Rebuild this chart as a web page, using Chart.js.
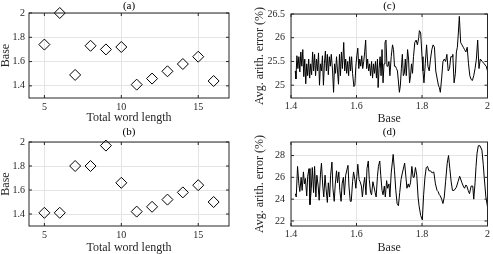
<!DOCTYPE html>
<html lang="en">
<head>
<meta charset="UTF-8" />
<title>Base vs word length, arithmetic error vs base</title>
<script src="https://cdn.jsdelivr.net/npm/chart.js"></script>
<style>
  body { margin: 0; background: #fff; }
  .panel { position: absolute; }
</style>
</head>
<body>
<div class="panel" style="left:0;top:0"><canvas id="chartA" width="246" height="127"></canvas></div>
<div class="panel" style="left:0;top:127px"><canvas id="chartB" width="246" height="127"></canvas></div>
<div class="panel" style="left:246px;top:0"><canvas id="chartC" width="247" height="127"></canvas></div>
<div class="panel" style="left:246px;top:127px"><canvas id="chartD" width="247" height="127"></canvas></div>

<script>
  // (a), (b): best base per total word length
  const wordLengths = [5, 6, 7, 8, 9, 10, 11, 12, 13, 14, 15, 16];
  const baseA = [1.74, 2.0, 1.49, 1.73, 1.70, 1.72, 1.41, 1.46, 1.52, 1.58, 1.64, 1.44];
  const baseB = [1.41, 1.41, 1.80, 1.80, 1.97, 1.66, 1.42, 1.46, 1.52, 1.58, 1.64, 1.50];

  // (c): average arithmetic error vs base
  const baseGridC = [
    1.413, 1.415, 1.418, 1.421, 1.424, 1.427, 1.430, 1.433, 1.436, 1.439,
    1.442, 1.445, 1.448, 1.451, 1.454, 1.457, 1.460, 1.463, 1.466, 1.469,
    1.472, 1.475, 1.478, 1.481, 1.484, 1.487, 1.490, 1.493, 1.496, 1.499,
    1.502, 1.505, 1.508, 1.511, 1.514, 1.517, 1.520, 1.523, 1.527, 1.530,
    1.533, 1.536, 1.539, 1.542, 1.545, 1.548, 1.551, 1.554, 1.557, 1.561,
    1.564, 1.567, 1.570, 1.573, 1.576, 1.579, 1.582, 1.585, 1.588, 1.592,
    1.595, 1.598, 1.601, 1.604, 1.607, 1.610, 1.613, 1.616, 1.619, 1.622,
    1.625, 1.628, 1.631, 1.634, 1.637, 1.640, 1.643, 1.646, 1.649, 1.652,
    1.655, 1.658, 1.661, 1.664, 1.666, 1.669, 1.672, 1.675, 1.678, 1.681,
    1.684, 1.687, 1.690, 1.693, 1.696, 1.699, 1.702, 1.706, 1.710, 1.713,
    1.716, 1.719, 1.722, 1.725, 1.731, 1.734, 1.737, 1.740, 1.743, 1.746,
    1.749, 1.752, 1.756, 1.759, 1.762, 1.765, 1.768, 1.771, 1.774, 1.778,
    1.782, 1.786, 1.790, 1.792, 1.796, 1.800, 1.803, 1.806, 1.810, 1.814,
    1.818, 1.822, 1.826, 1.830, 1.834, 1.838, 1.842, 1.846, 1.850, 1.853,
    1.856, 1.860, 1.864, 1.868, 1.872, 1.876, 1.880, 1.884, 1.888, 1.892,
    1.894, 1.898, 1.902, 1.905, 1.908, 1.911, 1.914, 1.918, 1.922, 1.926,
    1.930, 1.934, 1.938, 1.942, 1.946, 1.950, 1.954, 1.958, 1.962, 1.966,
    1.970, 1.974, 1.978, 1.984, 1.990, 1.996, 2.000
  ];
  const errorC = [
    25.30, 25.13, 25.62, 25.35, 25.60, 25.28, 25.70, 25.40, 25.75, 25.18,
    25.55, 25.03, 25.45, 25.20, 25.55, 25.15, 25.45, 25.22, 25.70, 25.30,
    25.65, 25.20, 25.55, 25.30, 25.68, 25.00, 25.45, 25.30, 25.62, 25.00,
    25.45, 25.72, 25.30, 25.65, 25.22, 25.60, 25.40, 25.65, 25.30, 24.85,
    25.45, 25.25, 25.60, 25.30, 25.02, 25.65, 25.20, 25.70, 25.35, 25.90,
    25.30, 25.55, 25.25, 25.50, 25.20, 25.60, 25.30, 25.60, 25.25, 24.97,
    25.00, 25.40, 25.62, 25.78, 25.35, 25.55, 25.40, 25.62, 25.35, 25.50,
    25.70, 25.95, 25.35, 25.55, 25.30, 25.45, 25.20, 25.50, 25.15, 25.45,
    25.25, 25.50, 25.15, 25.55, 24.95, 25.35, 25.60, 25.20, 25.75, 25.05,
    25.45, 25.90, 25.95, 25.40, 25.40, 25.50, 25.20, 25.60, 25.85, 25.75,
    25.40, 25.40, 25.35, 25.30, 24.85, 25.00, 25.35, 25.65, 25.20, 25.25,
    25.55, 25.20, 25.75, 25.55, 25.05, 25.20, 25.45, 25.25, 25.60, 25.90,
    25.95, 25.85, 26.00, 26.15, 26.10, 25.60, 25.30, 25.05, 25.45, 25.85,
    25.40, 25.30, 25.55, 25.75, 25.85, 25.80, 25.30, 25.15, 25.00, 24.95,
    24.85, 25.15, 25.50, 25.55, 25.50, 25.65, 25.30, 25.35, 25.60, 25.60,
    25.65, 25.05, 25.25, 25.70, 25.80, 26.10, 26.45, 25.90, 25.85, 25.80,
    25.75, 25.70, 25.80, 25.45, 25.20, 25.12, 25.10, 25.20, 25.35, 25.55,
    25.95, 25.35, 25.55, 25.50, 25.45, 25.40, 25.30
  ];

  // (d): average arithmetic error vs base, second setting
  const baseGridD = [
    1.413, 1.416, 1.420, 1.424, 1.427, 1.431, 1.434, 1.438, 1.441, 1.444,
    1.448, 1.451, 1.455, 1.458, 1.462, 1.465, 1.469, 1.472, 1.476, 1.479,
    1.483, 1.486, 1.490, 1.493, 1.497, 1.500, 1.504, 1.507, 1.511, 1.514,
    1.518, 1.521, 1.525, 1.528, 1.532, 1.535, 1.539, 1.542, 1.546, 1.549,
    1.553, 1.556, 1.560, 1.563, 1.567, 1.570, 1.574, 1.577, 1.581, 1.584,
    1.588, 1.591, 1.595, 1.598, 1.601, 1.604, 1.608, 1.611, 1.615, 1.618,
    1.622, 1.625, 1.629, 1.632, 1.636, 1.639, 1.643, 1.646, 1.650, 1.653,
    1.657, 1.660, 1.664, 1.667, 1.671, 1.674, 1.678, 1.681, 1.685, 1.688,
    1.692, 1.695, 1.699, 1.702, 1.706, 1.712, 1.716, 1.720, 1.724, 1.728,
    1.732, 1.736, 1.740, 1.747, 1.751, 1.754, 1.758, 1.761, 1.765, 1.769,
    1.773, 1.776, 1.780, 1.784, 1.788, 1.791, 1.796, 1.801, 1.805, 1.809,
    1.813, 1.817, 1.821, 1.826, 1.831, 1.836, 1.841, 1.846, 1.849, 1.853,
    1.856, 1.860, 1.864, 1.868, 1.872, 1.877, 1.881, 1.885, 1.889, 1.893,
    1.898, 1.905, 1.910, 1.915, 1.922, 1.926, 1.930, 1.934, 1.937, 1.941,
    1.945, 1.950, 1.955, 1.958, 1.962, 1.965, 1.968, 1.972, 1.977, 1.983,
    1.987, 1.990, 1.995, 2.000
  ];
  const errorD = [
    24.5, 24.2, 27.0, 25.4, 24.7, 26.0, 24.8, 26.5, 25.4, 25.9,
    24.3, 26.1, 26.8, 23.5, 25.0, 26.9, 24.6, 27.0, 24.2, 26.2,
    25.2, 23.9, 26.3, 27.3, 25.2, 24.2, 26.2, 25.0, 23.7, 25.5,
    24.2, 26.2, 27.4, 25.0, 23.8, 25.3, 26.6, 25.5, 26.5, 24.8,
    23.8, 25.4, 26.0, 24.4, 26.2, 26.6, 27.1, 25.2, 23.8, 23.8,
    25.6, 26.5, 25.8, 25.0, 26.1, 27.2, 25.8, 25.6, 25.2, 24.2,
    25.4, 26.0, 24.4, 26.8, 27.5, 25.8, 24.6, 24.4, 25.6, 25.2,
    24.6, 24.2, 26.1, 27.0, 27.5, 26.2, 24.8, 24.4, 25.2, 24.2,
    25.7, 25.0, 25.4, 24.2, 26.4, 28.1, 26.6, 24.8, 23.6, 23.4,
    24.6, 25.8, 26.4, 27.3, 26.0, 25.0, 25.4, 25.1, 25.5, 27.0,
    26.0, 26.0, 26.9, 26.2, 24.2, 23.4, 22.5, 22.1, 24.4, 26.0,
    26.9, 27.0, 26.6, 26.6, 26.4, 26.5, 25.4, 24.8, 24.7, 24.4,
    24.3, 24.0, 23.6, 24.2, 25.6, 27.3, 28.0, 26.8, 25.6, 24.8,
    24.8, 25.1, 25.6, 26.1, 25.5, 25.2, 25.0, 25.3, 25.2, 24.8,
    24.5, 25.2, 25.2, 24.0, 25.5, 27.0, 28.2, 28.9, 28.9, 28.5,
    27.2, 26.0, 24.2, 23.3
  ];

  const FONT = '"Liberation Serif", "Times New Roman", serif';
  const INK = "#262626";

  const toPoints = (xs, ys) => xs.map((x, i) => ({ x, y: ys[i] }));
  const fmt = (v) => String(+v.toFixed(2));

  // MATLAB-ish axes box, inward ticks, panel letter
  const boxPlugin = {
    id: "box",
    afterDraw(chart, args, opts) {
      const { ctx, chartArea: a, scales } = chart;
      ctx.save();
      ctx.strokeStyle = INK;
      ctx.lineWidth = 1;
      ctx.strokeRect(a.left, a.top, a.right - a.left, a.bottom - a.top);
      const len = 3;
      ctx.beginPath();
      scales.x.ticks.forEach((t) => {
        const px = scales.x.getPixelForValue(t.value);
        ctx.moveTo(px, a.bottom); ctx.lineTo(px, a.bottom - len);
        ctx.moveTo(px, a.top); ctx.lineTo(px, a.top + len);
      });
      scales.y.ticks.forEach((t) => {
        const py = scales.y.getPixelForValue(t.value);
        ctx.moveTo(a.left, py); ctx.lineTo(a.left + len, py);
        ctx.moveTo(a.right, py); ctx.lineTo(a.right - len, py);
      });
      ctx.stroke();
      ctx.fillStyle = "#000";
      ctx.font = "11px " + FONT;
      ctx.textAlign = "center";
      ctx.textBaseline = "middle";
      ctx.fillText(opts.label, (a.left + a.right) / 2, opts.labelY);
      ctx.restore();
    },
  };

  function makePanel(id, cfg) {
    const tickFont = { family: FONT, size: 10, lineHeight: 1 };
    const titleFont = { family: FONT, size: 12, lineHeight: 1 };
    return new Chart(document.getElementById(id), {
      type: cfg.type,
      data: { datasets: [cfg.dataset] },
      plugins: [boxPlugin],
      options: {
        responsive: false,
        animation: false,
        layout: { padding: { top: cfg.top, right: cfg.right, left: 0, bottom: 0 } },
        plugins: {
          legend: { display: false },
          tooltip: { enabled: false },
          box: { label: cfg.label, labelY: cfg.labelY },
        },
        scales: {
          x: {
            type: "linear",
            min: cfg.xMin,
            max: cfg.xMax,
            afterBuildTicks: (s) => { s.ticks = cfg.xTicks.map((v) => ({ value: v })); },
            afterFit: (s) => { s.height = cfg.xHeight; },
            grid: { color: "#e4e4e4", drawTicks: false },
            border: { display: false },
            ticks: { font: tickFont, color: INK, padding: cfg.xTickPad, maxRotation: 0, callback: fmt },
            title: { display: true, text: cfg.xTitle, font: titleFont, color: INK, padding: { top: 0, bottom: cfg.xTitlePad } },
          },
          y: {
            type: "linear",
            min: cfg.yMin,
            max: cfg.yMax,
            afterBuildTicks: (s) => { s.ticks = cfg.yTicks.map((v) => ({ value: v })); },
            afterFit: (s) => { s.width = cfg.yWidth; },
            grid: { color: "#e4e4e4", drawTicks: false },
            border: { display: false },
            ticks: { font: tickFont, color: INK, padding: cfg.yTickPad, callback: fmt },
            title: { display: true, text: cfg.yTitle, font: titleFont, color: INK, padding: { top: cfg.yTitlePad, bottom: 0 } },
          },
        },
      },
    });
  }

  const diamond = (data) => ({
    data,
    pointStyle: "rectRot",
    pointRadius: 5.5,
    pointBorderWidth: 1,
    pointBorderColor: "#000",
    pointBackgroundColor: "rgba(0,0,0,0)",
    showLine: false,
    clip: false,
  });
  const trace = (data) => ({
    data,
    borderColor: "#000",
    borderWidth: 1,
    pointRadius: 0,
    tension: 0,
    fill: false,
  });

  const leftCommon = {
    type: "scatter", xMin: 4, xMax: 17, xTicks: [5, 10, 15],
    yMin: 1.3, yMax: 2, yTicks: [1.4, 1.6, 1.8, 2],
    xTitle: "Total word length", yTitle: "Base",
    right: 17, yWidth: 29, xTickPad: 4, yTickPad: 4, yTitlePad: 0,
  };
  const rightCommon = {
    type: "line", xMin: 1.4, xMax: 2, xTicks: [1.4, 1.6, 1.8, 2],
    xTitle: "Base", yTitle: "Avg. arith. error (%)",
    right: 3, yWidth: 45, xTickPad: 3, yTickPad: 6, yTitlePad: 8,
  };

  makePanel("chartA", { ...leftCommon, dataset: diamond(toPoints(wordLengths, baseA)),
    label: "(a)", labelY: 6, top: 13, xHeight: 29, xTitlePad: 3 });
  makePanel("chartB", { ...leftCommon, dataset: diamond(toPoints(wordLengths, baseB)),
    label: "(b)", labelY: 5, top: 15, xHeight: 28, xTitlePad: 0 });
  makePanel("chartC", { ...rightCommon, dataset: trace(toPoints(baseGridC, errorC)),
    yMin: 24.73, yMax: 26.5, yTicks: [25, 25.5, 26, 26.5],
    label: "(c)", labelY: 6, top: 14, xHeight: 29, xTitlePad: 2.5 });
  makePanel("chartD", { ...rightCommon, dataset: trace(toPoints(baseGridD, errorD)),
    yMin: 21.54, yMax: 29.24, yTicks: [22, 24, 26, 28],
    label: "(d)", labelY: 5, top: 15, xHeight: 28, xTitlePad: 0 });
</script>
</body>
</html>
